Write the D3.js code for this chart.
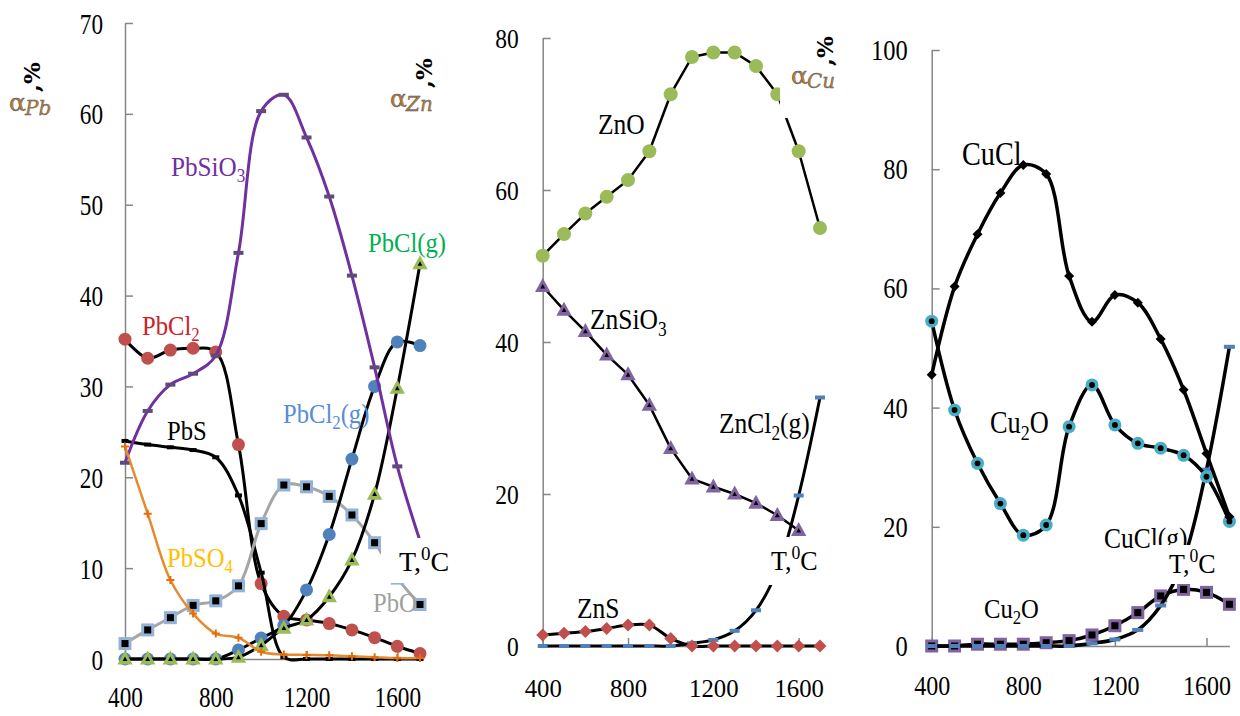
<!DOCTYPE html>
<html><head><meta charset="utf-8">
<script src="https://cdn.jsdelivr.net/npm/d3@7"></script>
<style>body{margin:0;background:#fff}svg{display:block;background:#fff}</style>
</head><body>
<svg id="c" width="1240" height="716"></svg>
<script>
// ---------- data ----------
const temps = [400,500,600,700,800,900,1000,1100,1200,1300,1400,1500,1600,1700];
const xTicks = [400,800,1200,1600];
// panel 1 (Pb)
const pbCl2  = [35.2,33.1,34.0,34.2,33.8,23.6,8.3,4.7,4.3,3.9,3.2,2.35,1.4,0.6];
const pbSiO3 = [21.6,27.3,30.2,31.4,33.4,44.7,60.3,62.1,57.4,50.9,42.2,32.1,21.2,13.0];
const pbS    = [24.0,23.6,23.3,23.0,22.2,18.0,9.5,0.2,0,0,0,0,0,0];
const pbSO4  = [23.4,16.0,8.7,5.0,2.8,2.35,0.8,0.5,0.45,0.4,0.3,0.2,0.1,0.1];
const pbO    = [1.7,3.2,4.55,5.9,6.4,8.05,14.9,19.15,18.95,17.9,15.85,12.8,8.9,6.0];
const pbCl2g = [0,0,0,0,0,1.0,2.3,3.7,7.6,13.7,22.0,30.0,34.9,34.5];
const pbClg  = [0,0,0,0,0,0.2,1.5,3.4,4.3,6.85,10.9,18.15,29.8,43.5];
const yTicksPb = [0,10,20,30,40,50,60,70];
// panel 2 (Zn)
const znO    = [51.35,54.2,56.9,59.1,61.3,65.1,72.6,77.5,78.1,78.1,76.3,72.6,65.1,55.0];
const znSiO3 = [47.3,44.2,41.4,38.3,35.7,31.7,26.0,22.0,20.95,20.0,18.8,17.2,15.2,null];
const znCl2g = [0,0,0,0,0,0,0,0.35,0.8,2.0,4.7,10.0,19.8,32.7];
const znS    = [1.45,1.67,1.9,2.3,2.75,2.75,1.0,0,0,0,0,0,0,0];
const yTicksZn = [0,20,40,60,80];
// panel 3 (Cu)
const cuCl    = [45.5,60.3,69.1,76.0,80.7,79.2,62.1,54.4,58.9,57.6,51.5,43.0,32.3,21.7];
const cu2O    = [54.5,39.6,30.65,23.9,18.6,20.3,36.8,43.8,37.1,34.0,33.2,32.0,28.4,20.9];
const cuClg   = [0,0,0,0,0,0,0,0.45,1.1,2.7,6.8,14.5,29.6,50.2];
const cu2OLow = [0,0,0.3,0.3,0.3,0.55,0.9,1.85,3.4,5.6,8.4,9.5,9.0,7.0];
const yTicksCu = [0,20,40,60,80,100];

// ---------- helpers ----------
const svg = d3.select('#c');
const SERIF = '"Liberation Serif","Times New Roman",serif';

function addText(parent, x, y, parts, o) {
  const g = parent.append('g').attr('transform', `translate(${x},${y}) scale(${o.sx||1},1)`);
  const t = g.append('text').attr('font-family', o.family || SERIF).attr('font-size', o.size)
    .attr('fill', o.color || '#000').attr('text-anchor', o.anchor || 'start');
  if (o.italic) t.attr('font-style', 'italic');
  let cur = 0;
  parts.forEach(p => {
    const [s, k] = typeof p === 'string' ? [p, 'n'] : p;
    const off = k === 'sub' ? o.size * 0.22 : k === 'sup' ? -o.size * 0.38 : 0;
    t.append('tspan').attr('dy', off - cur).attr('font-size', k === 'n' ? o.size : o.size * 0.68).text(s);
    cur = off;
  });
  return g;
}

const M = {
  circle: (g, x, y, o) => g.append('circle').attr('cx', x).attr('cy', y).attr('r', o.r).attr('fill', o.fill),
  ring: (g, x, y, o) => { g.append('circle').attr('cx', x).attr('cy', y).attr('r', o.r).attr('fill', o.fill);
    g.append('circle').attr('cx', x).attr('cy', y).attr('r', o.r*0.45).attr('fill', '#000'); },
  dash: (g, x, y, o) => g.append('rect').attr('x', x - o.w/2).attr('y', y - o.h/2).attr('width', o.w).attr('height', o.h).attr('fill', o.fill),
  plus: (g, x, y, o) => g.append('path').attr('d', `M${x-o.s},${y}H${x+o.s}M${x},${y-o.s}V${y+o.s}`).attr('stroke', o.fill).attr('stroke-width', 2),
  square: (g, x, y, o) => { g.append('rect').attr('x', x - o.s/2).attr('y', y - o.s/2).attr('width', o.s).attr('height', o.s).attr('fill', o.fill);
    g.append('rect').attr('x', x - o.s*0.27).attr('y', y - o.s*0.27).attr('width', o.s*0.54).attr('height', o.s*0.54).attr('fill', '#000'); },
  tri: (g, x, y, o) => { const s = o.s;
    g.append('path').attr('d', `M${x},${y-s*0.6}L${x+s*0.55},${y+s*0.4}L${x-s*0.55},${y+s*0.4}Z`).attr('fill', o.fill);
    g.append('path').attr('d', `M${x},${y-s*0.18}L${x+s*0.17},${y+s*0.14}L${x-s*0.17},${y+s*0.14}Z`).attr('fill', '#000'); },
  diamond: (g, x, y, o) => g.append('path').attr('d', `M${x},${y-o.s}L${x+o.s},${y}L${x},${y+o.s}L${x-o.s},${y}Z`).attr('fill', o.fill)
};

function drawPanel(p) {
  const x = d3.scaleLinear().domain([400, 1700]).range([p.left, p.right]);
  const y = d3.scaleLinear().domain([0, p.ymax]).range([p.bottom, p.top]);
  const g = svg.append('g');

  // y axis
  const ya = g.append('g').attr('transform', `translate(${p.left},0)`)
    .call(d3.axisLeft(y).tickValues(p.yTicks).tickSize(-8).tickSizeOuter(0).tickFormat(d3.format('d')));
  ya.selectAll('path,line').attr('stroke', '#868686').attr('stroke-width', 1.5);
  ya.selectAll('text').attr('font-family', SERIF).attr('font-size', p.yt.size).attr('fill', '#000')
    .attr('x', -p.yt.gap / p.yt.sx).attr('dy', 0).attr('y', p.yt.off)
    .attr('transform', `scale(${p.yt.sx},1)`);
  // x axis
  const xa = g.append('g').attr('transform', `translate(0,${p.bottom})`)
    .call(d3.axisBottom(x).tickValues(xTicks).tickSize(-8).tickSizeOuter(0).tickFormat(d3.format('d')));
  xa.selectAll('path,line').attr('stroke', '#868686').attr('stroke-width', 1.5);
  xa.selectAll('text').attr('font-family', SERIF).attr('font-size', p.xt.size).attr('fill', '#000')
    .attr('dy', 0).attr('y', p.xt.off).attr('transform', `scale(${p.xt.sx},1)`)
    .attr('x', 0);
  g.selectAll('.domain').attr('stroke', '#868686');

  // series
  p.series.forEach(s => {
    const pts = temps.map((t, i) => [t, s.data[i]]);
    const line = d3.line().defined(d => d[1] !== null && d[1] !== undefined)
      .x(d => x(d[0])).y(d => y(d[1]))
      .curve(s.smooth ? d3.curveCatmullRom.alpha(0.5) : d3.curveLinear);
    g.append('path').attr('d', line(pts)).attr('fill', 'none').attr('stroke', s.color)
      .attr('stroke-width', s.width || 3).attr('stroke-linejoin', 'round').attr('stroke-linecap', 'round');
    const mg = g.append('g');
    pts.forEach(d => { if (d[1] !== null) M[s.marker.type](mg, x(d[0]), y(d[1]), s.marker); });
  });

  // white label boxes
  p.boxes.forEach(b => g.append('rect').attr('x', b[0]).attr('y', b[1]).attr('width', b[2]).attr('height', b[3]).attr('fill', '#fff'));
  // labels
  p.labels.forEach(l => addText(g, l.x, l.y, l.parts, l));
  // y-axis titles
  p.titles.forEach(t => {
    addText(g, t.x, t.y, [t.alpha], {size: 25, color: '#c07c1a', family: '"DejaVu Serif",serif'})
      .select('text').attr('stroke', '#2c4a8c').attr('stroke-width', 0.4);
    addText(g, t.x + 16, t.y + 4, [t.sub], {size: 20, color: '#c07c1a', italic: true, family: '"DejaVu Serif",serif'})
      .select('text').attr('stroke', '#2c4a8c').attr('stroke-width', 0.35);
    g.append('text').attr('transform', `translate(${t.px},${t.py}) rotate(-90)`)
      .attr('font-family', '"DejaVu Serif",serif').attr('font-size', 23).attr('font-weight', 'bold').attr('fill', '#000').text(',%');
  });
}

const TC = ['T,', ['0', 'sup'], 'C'];

drawPanel({
  left: 125, right: 420, bottom: 659, top: 23, ymax: 70, yTicks: yTicksPb,
  yt: {size: 29, sx: 0.8, gap: 22, off: 10}, xt: {size: 29, sx: 0.8, off: 48},
  series: [
    {data: pbCl2, color: '#000', smooth: true, marker: {type: 'circle', r: 6.5, fill: '#C0504D'}},
    {data: pbS, color: '#000', smooth: true, marker: {type: 'dash', w: 7, h: 4, fill: '#000'}},
    {data: pbO, color: '#A6A6A6', smooth: true, marker: {type: 'square', s: 13, fill: '#95B3D7'}},
    {data: pbCl2g, color: '#000', smooth: true, marker: {type: 'circle', r: 6.5, fill: '#4F81BD'}},
    {data: pbClg, color: '#000', smooth: true, marker: {type: 'tri', s: 14, fill: '#9BBB59'}},
    {data: pbSiO3, color: '#7030A0', smooth: true, marker: {type: 'dash', w: 10, h: 4, fill: '#604A7B'}},
    {data: pbSO4, color: '#E8892F', width: 2.5, smooth: true, marker: {type: 'plus', s: 4, fill: '#E46C0A'}}
  ],
  boxes: [[381, 538, 76, 45]],
  labels: [
    {x: 171, y: 176, parts: ['PbSiO', ['3', 'sub']], size: 28, sx: 0.9, color: '#7030A0'},
    {x: 142, y: 335, parts: ['PbCl', ['2', 'sub']], size: 28, sx: 0.88, color: '#CC2229'},
    {x: 368, y: 252, parts: ['PbCl(g)'], size: 28, sx: 0.88, color: '#00B050'},
    {x: 167, y: 440, parts: ['PbS'], size: 28, sx: 0.88, color: '#000'},
    {x: 283, y: 423, parts: ['PbCl', ['2', 'sub'], '(g)'], size: 28, sx: 0.88, color: '#558ED5'},
    {x: 167, y: 567, parts: ['PbSO', ['4', 'sub']], size: 28, sx: 0.88, color: '#FFC000'},
    {x: 373, y: 612, parts: ['PbO'], size: 28, sx: 0.88, color: '#A0A0A0'},
    {x: 399, y: 571, parts: TC, size: 28, sx: 1, color: '#000'}
  ],
  titles: [
    {alpha: 'α', sub: 'Pb', x: 9, y: 111, px: 40, py: 92},
    {alpha: 'α', sub: 'Zn', x: 390, y: 107, px: 432, py: 88}
  ]
});

drawPanel({
  left: 542.7, right: 820, bottom: 646, top: 38, ymax: 80, yTicks: yTicksZn,
  yt: {size: 28, sx: 0.84, gap: 24, off: 9.5}, xt: {size: 25.5, sx: 0.97, off: 51},
  series: [
    {data: znO, color: '#000', width: 2.5, smooth: false, marker: {type: 'circle', r: 7, fill: '#9BBB59'}},
    {data: znSiO3, color: '#000', width: 2.5, smooth: false, marker: {type: 'tri', s: 14, fill: '#8064A2'}},
    {data: znCl2g, color: '#000', width: 3, smooth: true, marker: {type: 'dash', w: 10, h: 4, fill: '#4F81BD'}},
    {data: znS, color: '#000', width: 3, smooth: true, marker: {type: 'diamond', s: 6.5, fill: '#C0504D'}}
  ],
  boxes: [[765, 537, 60, 48], [780, 20, 70, 98]],
  labels: [
    {x: 598, y: 134, parts: ['ZnO'], size: 30, sx: 0.85, color: '#000'},
    {x: 590, y: 329, parts: ['ZnSiO', ['3', 'sub']], size: 30, sx: 0.85, color: '#000'},
    {x: 719, y: 433, parts: ['ZnCl', ['2', 'sub'], '(g)'], size: 30, sx: 0.85, color: '#000'},
    {x: 577, y: 618, parts: ['ZnS'], size: 30, sx: 0.85, color: '#000'},
    {x: 771, y: 570, parts: TC, size: 28, sx: 0.93, color: '#000'}
  ],
  titles: [
    {alpha: 'α', sub: 'Cu', x: 791, y: 84, px: 833, py: 66}
  ]
});

drawPanel({
  left: 931.7, right: 1229.4, bottom: 646, top: 50, ymax: 100, yTicks: yTicksCu,
  yt: {size: 28.5, sx: 0.86, gap: 24, off: 9.5}, xt: {size: 27, sx: 0.89, off: 49},
  series: [
    {data: cu2OLow, color: '#000', width: 3.5, smooth: true, marker: {type: 'square', s: 13, fill: '#8064A2'}},
    {data: cuClg, color: '#000', width: 3.5, smooth: true, marker: {type: 'dash', w: 11, h: 4, fill: '#4F81BD'}},
    {data: cu2O, color: '#000', width: 3.5, smooth: true, marker: {type: 'ring', r: 6.5, fill: '#4BACC6'}},
    {data: cuCl, color: '#000', width: 3.5, smooth: true, marker: {type: 'diamond', s: 5, fill: '#000'}}
  ],
  boxes: [],
  labels: [
    {x: 962, y: 165, parts: ['CuCl'], size: 34, sx: 0.83, color: '#000'},
    {x: 990, y: 433, parts: ['Cu', ['2', 'sub'], 'O'], size: 31, sx: 0.85, color: '#000'},
    {x: 1104, y: 548, parts: ['CuCl(g)'], size: 30, sx: 0.85, color: '#000'},
    {x: 984, y: 618, parts: ['Cu', ['2', 'sub'], 'O'], size: 28, sx: 0.88, color: '#000'}
  ],
  titles: []
});
// panel 3 temperature label box drawn on top (it hides the lower part of the CuCl(g) label)
svg.append('rect').attr('x', 1150).attr('y', 545).attr('width', 76).attr('height', 39).attr('fill', '#fff');
addText(svg, 1169, 573, TC, {size: 28, sx: 0.93, color: '#000'});
</script>
</body></html>
